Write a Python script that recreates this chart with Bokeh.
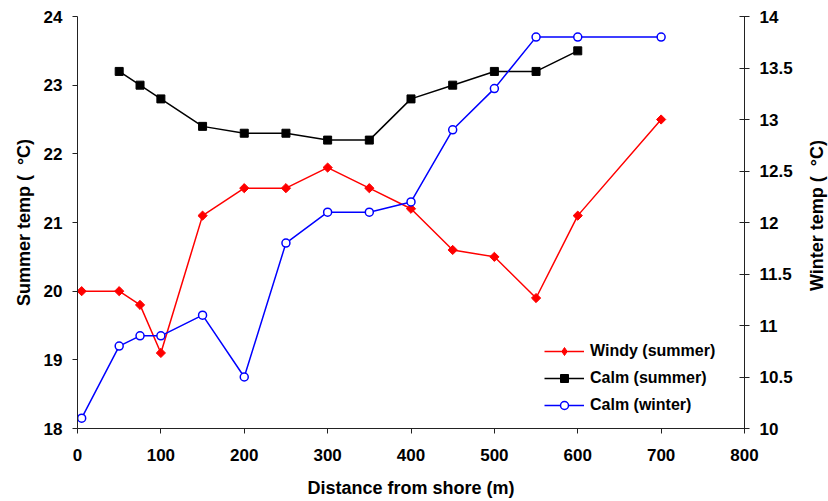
from bokeh.plotting import figure
from bokeh.models import Range1d, LinearAxis, FixedTicker, Legend, LegendItem, Label
from bokeh.embed import file_html
from bokeh.resources import INLINE
import math

# Distances from shore (m) and temperatures (°C)
dist_windy = [5, 50, 75, 100, 150, 200, 250, 300, 350, 400, 450, 500, 550, 600, 700]
windy_summer = [20.0, 20.0, 19.8, 19.1, 21.1, 21.5, 21.5, 21.8, 21.5, 21.2, 20.6, 20.5, 19.9, 21.1, 22.5]

dist_calm_summer = [50, 75, 100, 150, 200, 250, 300, 350, 400, 450, 500, 550, 600]
calm_summer = [23.2, 23.0, 22.8, 22.4, 22.3, 22.3, 22.2, 22.2, 22.8, 23.0, 23.2, 23.2, 23.5]

dist_winter = [5, 50, 75, 100, 150, 200, 250, 300, 350, 400, 450, 500, 550, 600, 700]
calm_winter = [10.1, 10.8, 10.9, 10.9, 11.1, 10.5, 11.8, 12.1, 12.1, 12.2, 12.9, 13.3, 13.8, 13.8, 13.8]

x_ticks = [0, 100, 200, 300, 400, 500, 600, 700, 800]
summer_ticks = [18, 19, 20, 21, 22, 23, 24]
winter_ticks = [10, 10.5, 11, 11.5, 12, 12.5, 13, 13.5, 14]
winter_tick_labels = ["10", "10.5", "11", "11.5", "12", "12.5", "13", "13.5", "14"]

FONT = "Liberation Sans"

p = figure(
    width=828, height=501,
    x_range=Range1d(0, 800), y_range=Range1d(18, 24),
    output_backend="svg", toolbar_location=None,
    min_border_left=77, min_border_right=84,
    min_border_top=16, min_border_bottom=73,
)
p.extra_y_ranges = {"winter": Range1d(10, 14)}
p.outline_line_color = None
p.xgrid.visible = False
p.ygrid.visible = False
p.background_fill_color = "white"
p.border_fill_color = "white"

right_axis = LinearAxis(y_range_name="winter")
p.add_layout(right_axis, "right")


def style_axis(ax, ticks, title, tick_in=0, standoff=10, title_standoff=10):
    ax.ticker = FixedTicker(ticks=ticks)
    ax.axis_line_color = "#222222"
    ax.axis_line_width = 1
    ax.major_tick_line_color = "#222222"
    ax.major_tick_out = 5
    ax.major_tick_in = tick_in
    ax.minor_tick_line_color = None
    ax.major_label_text_font = FONT
    ax.major_label_text_font_style = "bold"
    ax.major_label_text_font_size = "17px"
    ax.major_label_text_color = "black"
    ax.major_label_standoff = standoff
    ax.axis_label = title
    ax.axis_label_text_font = FONT
    ax.axis_label_text_font_style = "bold"
    ax.axis_label_text_font_size = "18px"
    ax.axis_label_text_color = "black"
    ax.axis_label_standoff = title_standoff


style_axis(p.xaxis[0], x_ticks, "Distance from shore (m)", standoff=15, title_standoff=14)
style_axis(p.yaxis[0], summer_ticks, "Summer temp ( \u00a0°C)", standoff=10, title_standoff=7)
style_axis(right_axis, winter_ticks, None, tick_in=5, standoff=10)
right_axis.major_label_overrides = {t: s for t, s in zip(winter_ticks, winter_tick_labels)}

# Right-hand axis title, reading bottom to top beside the winter scale
winter_title = Label(
    x=21, y=213, x_units="screen", y_units="screen",
    text="Winter temp ( \u00a0°C)", angle=math.pi / 2,
    text_align="center", text_baseline="middle",
    text_font=FONT, text_font_style="bold", text_font_size="18px", text_color="black",
)
p.add_layout(winter_title, "right")

# Windy summer: red line with diamonds
r_windy_line = p.line(dist_windy, windy_summer, line_color="#FF0000", line_width=1.5)
r_windy_pts = p.scatter(dist_windy, windy_summer, marker="square", angle=math.pi / 4,
                        size=6.5, fill_color="#FF0000", line_color="#FF0000", line_width=1)
# diamond marker used for the legend key
r_windy_key = p.scatter(dist_windy, windy_summer, marker="diamond", size=11,
                        fill_color="#FF0000", line_color="#FF0000", visible=False)

# Calm summer: black line with squares
r_calm_line = p.line(dist_calm_summer, calm_summer, line_color="black", line_width=1.5)
r_calm_pts = p.scatter(dist_calm_summer, calm_summer, marker="square",
                       size=8, fill_color="black", line_color="black")

# Calm winter: blue line with open circles on the right axis
r_winter_line = p.line(dist_winter, calm_winter, line_color="#0000FF", line_width=1.5,
                       y_range_name="winter")
r_winter_pts = p.scatter(dist_winter, calm_winter, marker="circle", size=8,
                         fill_color="white", line_color="#0000FF", line_width=1.5,
                         y_range_name="winter")

legend = Legend(
    items=[
        LegendItem(label="Windy (summer)", renderers=[r_windy_line, r_windy_key]),
        LegendItem(label="Calm (summer)", renderers=[r_calm_line, r_calm_pts]),
        LegendItem(label="Calm (winter)", renderers=[r_winter_line, r_winter_pts]),
    ],
    location=(467, 13),
    orientation="vertical",
    glyph_width=40, glyph_height=20,
    label_standoff=6, spacing=7, padding=0, margin=0,
    label_text_font=FONT, label_text_font_style="bold",
    label_text_font_size="16px", label_text_color="black",
    border_line_color=None, background_fill_alpha=0,
)
p.add_layout(legend, "center")

open("out.html", "w").write(file_html(p, INLINE))
